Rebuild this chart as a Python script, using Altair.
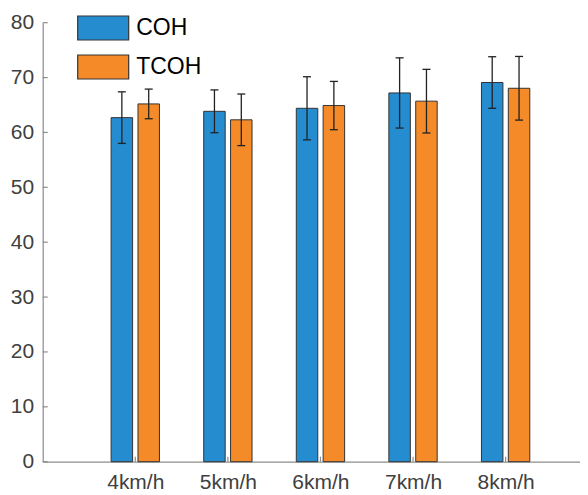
import json
import altair as alt
import pandas as pd

categories = ["4km/h", "5km/h", "6km/h", "7km/h", "8km/h"]
series_names = ["COH", "TCOH"]
coh_mean = [62.7, 63.85, 64.4, 67.2, 69.1]
coh_err = [4.7, 3.9, 5.75, 6.4, 4.7]
tcoh_mean = [65.2, 62.3, 64.9, 65.7, 68.05]
tcoh_err = [2.7, 4.7, 4.4, 5.8, 5.8]
y_ticks = [0, 10, 20, 30, 40, 50, 60, 70, 80]
colors = ["#268cd0", "#f58b28"]

rows = []
for i, c in enumerate(categories):
    rows.append({"idx": i + 1, "cat": c, "series": "COH", "mean": coh_mean[i], "err": coh_err[i]})
    rows.append({"idx": i + 1, "cat": c, "series": "TCOH", "mean": tcoh_mean[i], "err": tcoh_err[i]})
df = pd.DataFrame(rows)

W, H = 537, 439
FONT = "Liberation Sans"
AX = "#8c8c8c"

xscale = alt.Scale(domain=[0, 5.8], nice=False, zero=False)
yscale = alt.Scale(domain=[0, 80], nice=False)

base = alt.Chart(df).transform_calculate(
    pos="datum.idx + (datum.series == 'COH' ? -0.145 : 0.145)",
    x0="datum.idx + (datum.series == 'COH' ? -0.145 : 0.145) - 0.116",
    x1="datum.idx + (datum.series == 'COH' ? -0.145 : 0.145) + 0.116",
    lo="datum.mean - datum.err",
    hi="datum.mean + datum.err",
)

label_expr = json.dumps([""] + categories) + "[datum.value]"

bars = base.mark_bar(stroke="#333333", strokeWidth=1).encode(
    x=alt.X("x0:Q", scale=xscale, title=None,
            axis=alt.Axis(values=[1, 2, 3, 4, 5], labelExpr=label_expr, labelPadding=10)),
    x2="x1:Q",
    y=alt.Y("mean:Q", scale=yscale, title=None,
            axis=alt.Axis(values=y_ticks, labelPadding=9)),
    y2=alt.datum(0),
    color=alt.Color("series:N", scale=alt.Scale(domain=series_names, range=colors),
                    legend=alt.Legend(
                        title=None, orient="none", legendX=47.5, legendY=-7.7,
                        padding=0, symbolType="M-2.125,-1H2.125V1H-2.125Z",
                        symbolSize=576, symbolStrokeColor="#333333", symbolStrokeWidth=1.2,
                        symbolOpacity=1, labelFontSize=23, labelColor="#000000",
                        labelFont=FONT, labelOffset=20, rowPadding=9)),
)

err = base.mark_rule(color="#222222", strokeWidth=1.3).encode(
    x=alt.X("pos:Q", scale=xscale, title=None),
    y=alt.Y("lo:Q", scale=yscale, title=None),
    y2="hi:Q",
)
cap_hi = base.mark_tick(orient="horizontal", size=8, thickness=1.3, color="#222222", opacity=1).encode(
    x=alt.X("pos:Q", scale=xscale, title=None),
    y=alt.Y("hi:Q", scale=yscale, title=None),
)
cap_lo = base.mark_tick(orient="horizontal", size=8, thickness=1.3, color="#222222", opacity=1).encode(
    x=alt.X("pos:Q", scale=xscale, title=None),
    y=alt.Y("lo:Q", scale=yscale, title=None),
)

yt = alt.Chart(pd.DataFrame({"v": y_ticks})).mark_rule(color=AX, strokeWidth=1.2).encode(
    y=alt.Y("v:Q", scale=yscale, title=None), x=alt.value(0), x2=alt.value(5)
)
xt = alt.Chart(pd.DataFrame({"idx": [1, 2, 3, 4, 5]})).mark_rule(color=AX, strokeWidth=1.2).encode(
    x=alt.X("idx:Q", scale=xscale, title=None), y=alt.value(H), y2=alt.value(H - 5)
)

chart = alt.layer(bars, xt, err, cap_hi, cap_lo, yt).properties(
    width=W, height=H,
    autosize=alt.AutoSizeParams(type="none"),
    padding={"left": 34.7, "top": 14.7, "right": 0, "bottom": 33},
).configure(font=FONT).configure_view(stroke=None).configure_axis(
    grid=False, tickSize=0, domainColor=AX, domainWidth=1.2,
    labelFontSize=21, labelColor="#404040", labelFont=FONT, titleFontSize=1,
)

chart.save("out.html", embed_options={"renderer": "svg", "actions": False})
